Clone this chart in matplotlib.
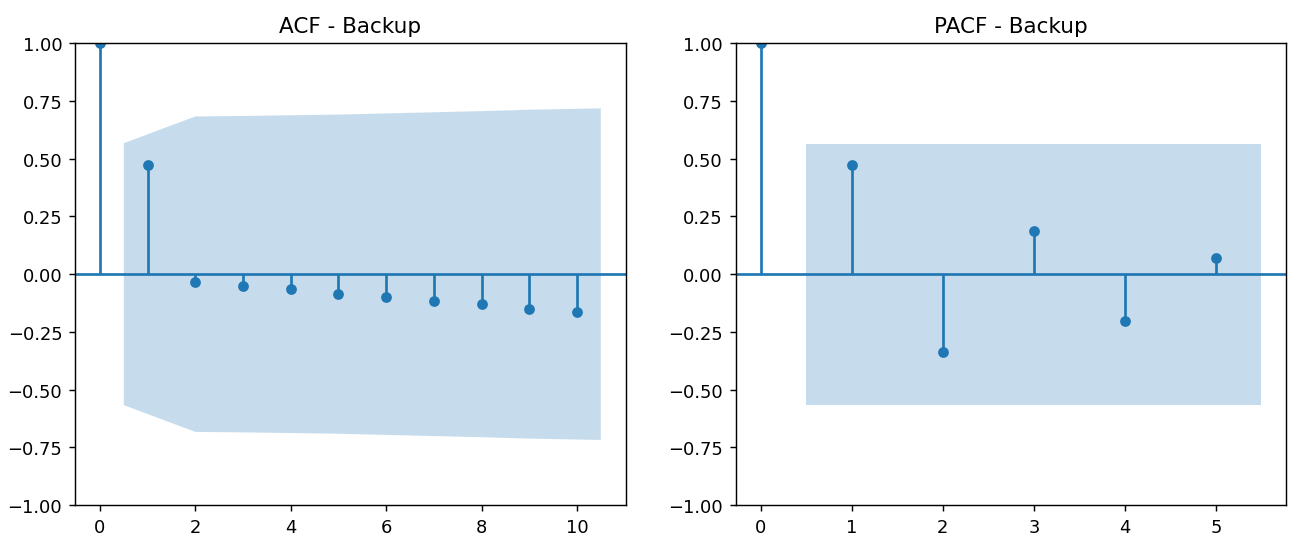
import numpy as np
import matplotlib
matplotlib.use("Agg")
import matplotlib.pyplot as plt

# ACF values (lag 0..10)
acf_lags = [0, 1, 2, 3, 4, 5, 6, 7, 8, 9, 10]
acf_vals = [1.0, 0.474, -0.034, -0.052, -0.066, -0.085, -0.099, -0.118, -0.130, -0.149, -0.163]
# half-width of the confidence band for lags 1..10
acf_band = [0.567, 0.683, 0.685, 0.688, 0.691, 0.696, 0.701, 0.706, 0.712, 0.718]

# PACF values (lag 0..5)
pacf_lags = [0, 1, 2, 3, 4, 5]
pacf_vals = [1.0, 0.474, -0.338, 0.188, -0.202, 0.072]
pacf_band = [0.565, 0.565, 0.565, 0.565, 0.565]


def corr_plot(ax, lags, vals, band, title):
    lags = np.asarray(lags, dtype=float)
    vals = np.asarray(vals)
    ax.vlines(lags, [0], vals)
    ax.axhline()
    ax.margins(0.05)
    ax.plot(lags, vals, marker="o", markersize=5, linestyle="None")
    ax.set_title(title)
    ax.set_ylim(-1, 1)
    # band spans lag 1 - 0.5 to last lag + 0.5
    x = lags[1:].copy()
    x[0] -= 0.5
    x[-1] += 0.5
    band = np.asarray(band)
    ax.fill_between(x, -band, band, alpha=0.25)


fig, axes = plt.subplots(1, 2, figsize=(10, 4.175), dpi=129.1)
corr_plot(axes[0], acf_lags, acf_vals, acf_band, "ACF - Backup")
corr_plot(axes[1], pacf_lags, pacf_vals, pacf_band, "PACF - Backup")
fig.subplots_adjust(left=0.058, right=0.9965, bottom=0.061, top=0.918, wspace=0.199)
plt.savefig("out.png")
